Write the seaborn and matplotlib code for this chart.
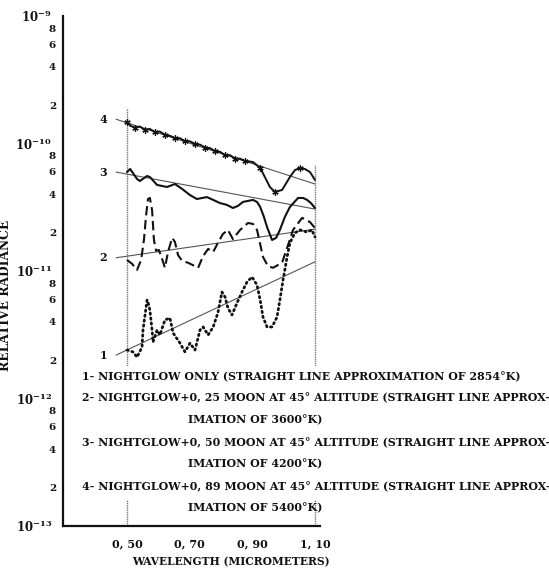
import numpy as np
import pandas as pd
import matplotlib
matplotlib.use("Agg")
import matplotlib.pyplot as plt
import matplotlib.ticker as mticker
from matplotlib.patches import Rectangle
import seaborn as sns

# ---------------- data ----------------
# curve 1: nightglow only (dotted)
wl_1 = [0.500, 0.519, 0.532, 0.548, 0.551, 0.564, 0.567, 0.573, 0.580, 0.583, 0.596, 0.605,
        0.621, 0.637, 0.647, 0.669, 0.685, 0.701, 0.717, 0.733, 0.743, 0.759, 0.775, 0.790,
        0.803, 0.813, 0.822, 0.835, 0.851, 0.867, 0.883, 0.899, 0.915, 0.925, 0.934, 0.947,
        0.963, 0.979, 0.988, 0.998, 1.011, 1.020, 1.036, 1.052, 1.075, 1.090, 1.100]
rad_1 = [2.40e-12, 2.32e-12, 2.11e-12, 2.54e-12, 3.44e-12, 5.93e-12, 5.72e-12, 4.94e-12,
         3.44e-12, 2.77e-12, 3.44e-12, 3.15e-12, 4.13e-12, 4.28e-12, 3.27e-12, 2.72e-12,
         2.32e-12, 2.72e-12, 2.40e-12, 3.44e-12, 3.64e-12, 3.15e-12, 3.64e-12, 4.69e-12,
         6.84e-12, 6.25e-12, 5.13e-12, 4.52e-12, 5.61e-12, 6.84e-12, 8.20e-12, 8.98e-12,
         7.76e-12, 5.93e-12, 4.36e-12, 3.64e-12, 3.64e-12, 4.36e-12, 5.93e-12, 8.49e-12,
         1.29e-11, 1.66e-11, 1.99e-11, 2.10e-11, 2.02e-11, 2.10e-11, 1.85e-11]

# curve 2: nightglow + 0.25 moon (dashed)
wl_2 = [0.500, 0.516, 0.532, 0.545, 0.554, 0.561, 0.567, 0.573, 0.580, 0.586, 0.593, 0.602,
        0.615, 0.621, 0.631, 0.644, 0.653, 0.663, 0.676, 0.695, 0.711, 0.727, 0.743, 0.759,
        0.775, 0.790, 0.806, 0.822, 0.838, 0.861, 0.886, 0.902, 0.915, 0.934, 0.950, 0.966,
        0.995, 1.014, 1.030, 1.059, 1.084, 1.100]
rad_2 = [1.22e-11, 1.14e-11, 1.02e-11, 1.22e-11, 1.75e-11, 2.75e-11, 3.67e-11, 3.74e-11,
         3.01e-11, 1.75e-11, 1.44e-11, 1.46e-11, 1.18e-11, 1.06e-11, 1.41e-11, 1.82e-11,
         1.69e-11, 1.33e-11, 1.20e-11, 1.16e-11, 1.11e-11, 1.06e-11, 1.31e-11, 1.49e-11,
         1.41e-11, 1.66e-11, 1.95e-11, 2.10e-11, 1.78e-11, 2.10e-11, 2.38e-11, 2.34e-11,
         2.10e-11, 1.29e-11, 1.09e-11, 1.06e-11, 1.16e-11, 1.60e-11, 2.10e-11, 2.61e-11,
         2.42e-11, 2.17e-11]

# curve 3: nightglow + 0.50 moon (solid)
wl_3 = [0.500, 0.510, 0.532, 0.541, 0.564, 0.573, 0.596, 0.628, 0.653, 0.676, 0.701, 0.723,
        0.755, 0.775, 0.797, 0.819, 0.838, 0.854, 0.870, 0.902, 0.915, 0.925, 0.937, 0.947,
        0.963, 0.976, 0.988, 1.004, 1.020, 1.046, 1.062, 1.075, 1.087, 1.100]
rad_3 = [5.97e-11, 6.31e-11, 5.27e-11, 5.08e-11, 5.56e-11, 5.46e-11, 4.73e-11, 4.56e-11,
         4.81e-11, 4.40e-11, 3.94e-11, 3.67e-11, 3.80e-11, 3.61e-11, 3.41e-11, 3.30e-11,
         3.12e-11, 3.24e-11, 3.48e-11, 3.61e-11, 3.48e-11, 3.18e-11, 2.66e-11, 2.21e-11,
         1.75e-11, 1.82e-11, 2.10e-11, 2.66e-11, 3.18e-11, 3.74e-11, 3.74e-11, 3.61e-11,
         3.41e-11, 3.12e-11]

# curve 4: nightglow + 0.89 moon (solid with star markers)
wl_4 = [0.500, 0.510, 0.526, 0.541, 0.557, 0.573, 0.589, 0.605, 0.621, 0.637, 0.653, 0.669,
        0.685, 0.701, 0.717, 0.733, 0.749, 0.765, 0.781, 0.797, 0.813, 0.829, 0.845, 0.861,
        0.877, 0.902, 0.925, 0.940, 0.956, 0.972, 0.995, 1.020, 1.036, 1.052, 1.068, 1.084,
        1.100]
rad_4 = [1.48e-10, 1.38e-10, 1.33e-10, 1.36e-10, 1.28e-10, 1.30e-10, 1.23e-10, 1.24e-10,
         1.17e-10, 1.15e-10, 1.10e-10, 1.10e-10, 1.04e-10, 1.04e-10, 9.90e-11, 9.80e-11,
         9.30e-11, 9.20e-11, 8.70e-11, 8.60e-11, 8.10e-11, 8.10e-11, 7.60e-11, 7.60e-11,
         7.30e-11, 7.16e-11, 6.43e-11, 5.46e-11, 4.56e-11, 4.17e-11, 4.32e-11, 5.46e-11,
         6.19e-11, 6.43e-11, 6.31e-11, 5.97e-11, 5.18e-11]
star_idx_4 = [0, 2, 4, 6, 8, 10, 12, 14, 16, 18, 20, 22, 24, 26, 29, 33]

# straight-line (black-body) approximations: start / end wavelength and radiance
fit_wl = [0.465, 1.100]
fit_1 = [2.19e-12, 1.18e-11]
fit_2 = [1.27e-11, 2.13e-11]
fit_3 = [5.97e-11, 3.06e-11]
fit_4 = [1.55e-10, 4.81e-11]
curve_labels = ["1", "2", "3", "4"]

# vertical reference lines (band limits) and their upper ends
ref_wl = [0.50, 1.10]
ref_top = [1.90e-10, 6.8e-11]

xtick_major = [0.50, 0.70, 0.90, 1.10]
xtick_minor = [0.60, 0.80, 1.00]
xtick_labels = ["0, 50", "0, 70", "0, 90", "1, 10"]
ytick_decades = [1e-13, 1e-12, 1e-11, 1e-10, 1e-9]
ytick_mantissas = [2, 3, 4, 5, 6, 7, 8, 9]

legend_lines = [
    ("1- NIGHTGLOW ONLY (STRAIGHT LINE APPROXIMATION OF 2854°K)", 0),
    ("2- NIGHTGLOW+0, 25 MOON AT 45° ALTITUDE (STRAIGHT LINE APPROX-", 0),
    ("IMATION OF 3600°K)", 1),
    ("3- NIGHTGLOW+0, 50 MOON AT 45° ALTITUDE (STRAIGHT LINE APPROX-", 0),
    ("IMATION OF 4200°K)", 1),
    ("4- NIGHTGLOW+0, 89 MOON AT 45° ALTITUDE (STRAIGHT LINE APPROX-", 0),
    ("IMATION OF 5400°K)", 1),
]

# ---------------- figure ----------------
sns.set_theme(style="white")
FONT = ["DejaVu Serif"]
plt.rcParams["font.family"] = FONT
plt.rcParams["font.weight"] = "bold"
plt.rcParams["axes.labelweight"] = "bold"
plt.rcParams["mathtext.fontset"] = "custom"
plt.rcParams["mathtext.rm"] = "DejaVu Serif:bold"
plt.rcParams["mathtext.it"] = "DejaVu Serif:bold"
plt.rcParams["mathtext.bf"] = "DejaVu Serif:bold"

W, H = 549, 577
fig = plt.figure(figsize=(W / 100, H / 100), dpi=100)
ax = fig.add_axes([63 / W, 1 - 526 / H, 257 / W, 510 / H])
ax.set_yscale("log")
ax.set_xlim(0.2957, 1.116)
ax.set_ylim(1e-13, 1e-9)

ink = "#111111"

# vertical band limit lines
for w, t in zip(ref_wl, ref_top):
    ax.plot([w, w], [1e-13, t], color="#777777", lw=1.0, ls=(0, (1, 0.6)), zorder=1)

# straight line approximations
for fit, lab in zip([fit_1, fit_2, fit_3, fit_4], curve_labels):
    sns.lineplot(x=fit_wl, y=fit, ax=ax, color="#555555", lw=0.8, zorder=2,
                 estimator=None, sort=False)
    ax.text(fit_wl[0] - 0.04, fit[0], lab, ha="center", va="center",
            fontsize=8, color=ink)

df1 = pd.DataFrame({"wl": wl_1, "rad": rad_1})
df2 = pd.DataFrame({"wl": wl_2, "rad": rad_2})
df3 = pd.DataFrame({"wl": wl_3, "rad": rad_3})
df4 = pd.DataFrame({"wl": wl_4, "rad": rad_4})


def draw(df, **kw):
    n0 = len(ax.lines)
    sns.lineplot(data=df, x="wl", y="rad", ax=ax, estimator=None, sort=False,
                 color=ink, zorder=3, **kw)
    return ax.lines[n0:]


for ln in draw(df1, lw=2.0):
    ln.set_linestyle((0, (0.5, 1.3)))
    ln.set_dash_capstyle("round")
for ln in draw(df2, lw=1.5):
    ln.set_linestyle((0, (4.5, 2.2)))
for ln in draw(df3, lw=1.5):
    ln.set_linestyle("-")
for ln in draw(df4, lw=1.4):
    ln.set_linestyle("-")
    ln.set_marker((6, 2, 0))
    ln.set_markersize(4.5)
    ln.set_markeredgewidth(0.9)
    ln.set_markeredgecolor(ink)
    ln.set_markevery(star_idx_4)

# axes styling
for s in ["top", "right"]:
    ax.spines[s].set_visible(False)
for s in ["left", "bottom"]:
    ax.spines[s].set_color(ink)
    ax.spines[s].set_linewidth(1.6)

ax.set_xticks(xtick_major)
ax.set_xticklabels(xtick_labels)
ax.set_xticks(xtick_minor, minor=True)
ax.tick_params(axis="x", which="both", direction="out", length=4, width=1.0,
               color=ink, labelsize=8, pad=5, labelcolor=ink)

ax.yaxis.set_major_locator(mticker.FixedLocator(ytick_decades))
ax.yaxis.set_major_formatter(mticker.FuncFormatter(
    lambda v, p: r"$10^{-%d}$" % round(-np.log10(v))))
minor_vals = [m * d for d in ytick_decades[:-1] for m in ytick_mantissas]
ax.yaxis.set_minor_locator(mticker.FixedLocator(minor_vals))


def minor_fmt(v, p):
    m = int(round(v / 10 ** np.floor(np.log10(v) + 1e-9)))
    return str(m) if m in (2, 4, 6, 8) else ""


ax.yaxis.set_minor_formatter(mticker.FuncFormatter(minor_fmt))
ax.tick_params(axis="y", which="major", direction="out", length=6, width=1.0,
               color=ink, labelsize=8.5, pad=2, labelcolor=ink)
ax.tick_params(axis="y", which="minor", direction="out", length=4, width=0.9,
               color=ink, labelsize=7.5, pad=1, labelcolor=ink)

ax.set_xlabel("WAVELENGTH (MICROMETERS)", fontsize=8, color=ink, fontweight="bold")
ax.set_ylabel("RELATIVE RADIANCE", fontsize=8, color=ink, fontweight="bold")
ax.xaxis.set_label_coords((231 - 63) / 257, -(556 - 526) / 510)
ax.yaxis.set_label_coords(-(63 - 12) / 257, (526 - 295) / 510)

# white panel behind the caption (hides the band lines)
fig.patches.append(Rectangle((75 / W, 1 - 500 / H), 474 / W, 134 / H,
                             transform=fig.transFigure, facecolor="white",
                             edgecolor="none", zorder=5))

row_y = [377, 398, 420, 443, 464, 487, 508]
caption = []
for (txt, indent), yy in zip(legend_lines, row_y):
    xx = 82 if indent == 0 else 188
    caption.append(fig.text(xx / W, 1 - yy / H, txt, ha="left", va="center",
                            fontsize=8, color=ink, zorder=6))

# scale text sizes so their printed widths match the reference
fig.canvas.draw()
r = fig.canvas.get_renderer()


def width_of(t):
    return t.get_window_extent(renderer=r).width


cap_size = 8 * 466 / width_of(caption[1])
for t in caption:
    t.set_fontsize(cap_size)

xl = ax.xaxis.label
xl.set_fontsize(xl.get_fontsize() * 197 / width_of(xl))
yl = ax.yaxis.label
yl.set_fontsize(yl.get_fontsize() * 150 / yl.get_window_extent(renderer=r).height)

fig.savefig("out.png", dpi=100, facecolor="white")
